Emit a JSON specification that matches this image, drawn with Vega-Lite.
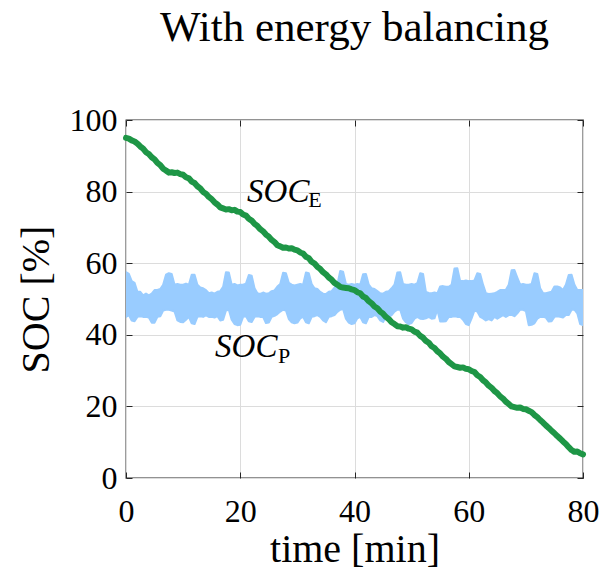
{
  "$schema": "https://vega.github.io/schema/vega-lite/v6.json",
  "autosize": {"type": "none"},
  "width": 457,
  "height": 358,
  "padding": {"left": 126, "top": 120, "right": 22, "bottom": 97},
  "background": "white",
  "title": {"text": "With energy balancing", "font": "'Liberation Serif', serif", "fontSize": 43, "fontWeight": "normal", "color": "#000", "anchor": "middle", "baseline": "alphabetic", "offset": 20},
  "config": {
    "view": {"stroke": "#262626", "strokeWidth": 1.3},
    "axis": {"labelFont": "'Liberation Serif', serif", "titleFont": "'Liberation Serif', serif", "labelFontSize": 32, "titleFontSize": 40, "titleFontWeight": "normal", "labelColor": "#000", "titleColor": "#000", "gridColor": "#dcdcdc", "gridWidth": 1, "domain": false, "tickColor": "#262626", "labelFlush": false}
  },
  "datasets": {
    "green": [
      {"t":0,"v":95.0},{"t":0.5,"v":94.8},{"t":1,"v":94.3},{"t":1.5,"v":94.0},{"t":2,"v":93.4},{"t":2.5,"v":92.6},{"t":3,"v":92.0},{"t":3.5,"v":91.0},{"t":4,"v":90.5},{"t":4.5,"v":89.6},
      {"t":5,"v":89.0},{"t":5.5,"v":88.0},{"t":6,"v":87.4},{"t":6.5,"v":86.4},{"t":7,"v":85.9},{"t":7.5,"v":85.3},{"t":8,"v":85.4},{"t":8.5,"v":85.2},{"t":9,"v":85.3},{"t":9.5,"v":84.9},
      {"t":10,"v":84.7},{"t":10.5,"v":84.0},{"t":11,"v":83.7},{"t":11.5,"v":82.8},{"t":12,"v":82.4},{"t":12.5,"v":81.5},{"t":13,"v":80.9},{"t":13.5,"v":79.9},{"t":14,"v":79.4},{"t":14.5,"v":78.5},
      {"t":15,"v":77.9},{"t":15.5,"v":77.0},{"t":16,"v":76.4},{"t":16.5,"v":75.6},{"t":17,"v":75.3},{"t":17.5,"v":75.0},{"t":18,"v":75.1},{"t":18.5,"v":74.8},{"t":19,"v":74.9},{"t":19.5,"v":74.4},
      {"t":20,"v":74.3},{"t":20.5,"v":73.6},{"t":21,"v":73.3},{"t":21.5,"v":72.4},{"t":22,"v":71.9},{"t":22.5,"v":71.0},{"t":23,"v":70.4},{"t":23.5,"v":69.5},{"t":24,"v":68.9},{"t":24.5,"v":68.0},
      {"t":25,"v":67.4},{"t":25.5,"v":66.5},{"t":26,"v":65.9},{"t":26.5,"v":65.0},{"t":27,"v":64.7},{"t":27.5,"v":64.3},{"t":28,"v":64.4},{"t":28.5,"v":64.1},{"t":29,"v":64.2},{"t":29.5,"v":63.8},
      {"t":30,"v":63.6},{"t":30.5,"v":63.0},{"t":31,"v":62.7},{"t":31.5,"v":61.8},{"t":32,"v":61.4},{"t":32.5,"v":60.4},{"t":33,"v":59.9},{"t":33.5,"v":59.0},{"t":34,"v":58.4},{"t":34.5,"v":57.5},
      {"t":35,"v":56.9},{"t":35.5,"v":56.0},{"t":36,"v":55.4},{"t":36.5,"v":54.5},{"t":37,"v":54.0},{"t":37.5,"v":53.4},{"t":38,"v":53.2},{"t":38.5,"v":53.1},{"t":39,"v":53.0},{"t":39.5,"v":52.7},
      {"t":40,"v":52.5},{"t":40.5,"v":51.9},{"t":41,"v":51.6},{"t":41.5,"v":50.7},{"t":42,"v":50.3},{"t":42.5,"v":49.4},{"t":43,"v":48.8},{"t":43.5,"v":47.9},{"t":44,"v":47.4},{"t":44.5,"v":46.5},
      {"t":45,"v":45.9},{"t":45.5,"v":45.0},{"t":46,"v":44.4},{"t":46.5,"v":43.5},{"t":47,"v":43.0},{"t":47.5,"v":42.4},{"t":48,"v":42.3},{"t":48.5,"v":42.0},{"t":49,"v":42.1},{"t":49.5,"v":41.7},
      {"t":50,"v":41.5},{"t":50.5,"v":40.9},{"t":51,"v":40.6},{"t":51.5,"v":39.7},{"t":52,"v":39.2},{"t":52.5,"v":38.3},{"t":53,"v":37.8},{"t":53.5,"v":36.8},{"t":54,"v":36.3},{"t":54.5,"v":35.4},
      {"t":55,"v":34.8},{"t":55.5,"v":33.9},{"t":56,"v":33.3},{"t":56.5,"v":32.4},{"t":57,"v":31.8},{"t":57.5,"v":31.2},{"t":58,"v":31.0},{"t":58.5,"v":30.8},{"t":59,"v":30.9},{"t":59.5,"v":30.5},
      {"t":60,"v":30.4},{"t":60.5,"v":29.9},{"t":61,"v":29.6},{"t":61.5,"v":28.7},{"t":62,"v":28.2},{"t":62.5,"v":27.3},{"t":63,"v":26.7},{"t":63.5,"v":25.8},{"t":64,"v":25.2},{"t":64.5,"v":24.3},
      {"t":65,"v":23.7},{"t":65.5,"v":22.8},{"t":66,"v":22.2},{"t":66.5,"v":21.3},{"t":67,"v":20.7},{"t":67.5,"v":20.0},{"t":68,"v":19.8},{"t":68.5,"v":19.6},{"t":69,"v":19.7},{"t":69.5,"v":19.3},
      {"t":70,"v":19.2},{"t":70.5,"v":18.8},{"t":71,"v":18.4},{"t":71.5,"v":17.6},{"t":72,"v":17.0},{"t":72.5,"v":16.2},{"t":73,"v":15.5},{"t":73.5,"v":14.7},{"t":74,"v":14.0},{"t":74.5,"v":13.2},
      {"t":75,"v":12.5},{"t":75.5,"v":11.7},{"t":76,"v":11.0},{"t":76.5,"v":10.2},{"t":77,"v":9.5},{"t":77.5,"v":8.6},{"t":78,"v":7.8},{"t":78.5,"v":7.3},{"t":79,"v":7.4},{"t":79.5,"v":6.9},
      {"t":80,"v":6.6}
    ],
    "blue": [
      {"t":0,"hi":57.5,"lo":45},{"t":0.5,"hi":57,"lo":45.5},{"t":1,"hi":55,"lo":44},{"t":1.5,"hi":54.5,"lo":43.8},{"t":2,"hi":52,"lo":45},{"t":2.5,"hi":52,"lo":45.2},{"t":3,"hi":51,"lo":45},{"t":3.5,"hi":51.5,"lo":45},{"t":4,"hi":51,"lo":44.8},{"t":4.5,"hi":51.5,"lo":43.4},
      {"t":5,"hi":52.5,"lo":43.4},{"t":5.5,"hi":52.5,"lo":45},{"t":6,"hi":52.8,"lo":45.2},{"t":6.5,"hi":54,"lo":46.8},{"t":7,"hi":56.8,"lo":47},{"t":7.5,"hi":57.2,"lo":47},{"t":8,"hi":57,"lo":46.8},{"t":8.5,"hi":54,"lo":46.5},{"t":9,"hi":54.2,"lo":44},{"t":9.5,"hi":54,"lo":43.6},
      {"t":10,"hi":54,"lo":43.5},{"t":10.5,"hi":54.3,"lo":44.2},{"t":11,"hi":54,"lo":45},{"t":11.5,"hi":56.8,"lo":43.2},{"t":12,"hi":56.8,"lo":43},{"t":12.5,"hi":54,"lo":45},{"t":13,"hi":53.2,"lo":45.2},{"t":13.5,"hi":53,"lo":45},{"t":14,"hi":52.5,"lo":45.4},{"t":14.5,"hi":51.6,"lo":45},
      {"t":15,"hi":51.8,"lo":45},{"t":15.5,"hi":51.5,"lo":44.8},{"t":16,"hi":52,"lo":45.2},{"t":16.5,"hi":52.2,"lo":44},{"t":17,"hi":53.4,"lo":44.2},{"t":17.5,"hi":57.5,"lo":46.8},{"t":18,"hi":57.4,"lo":47},{"t":18.5,"hi":54,"lo":44.2},{"t":19,"hi":54.2,"lo":43},{"t":19.5,"hi":53.8,"lo":42.7},
      {"t":20,"hi":54,"lo":42.8},{"t":20.5,"hi":54,"lo":45},{"t":21,"hi":54.3,"lo":45.2},{"t":21.5,"hi":56.7,"lo":43.8},{"t":22,"hi":56.5,"lo":43.6},{"t":22.5,"hi":53,"lo":45},{"t":23,"hi":51.6,"lo":45.2},{"t":23.5,"hi":51.4,"lo":45},{"t":24,"hi":51.8,"lo":45},{"t":24.5,"hi":51.5,"lo":43.3},
      {"t":25,"hi":51.6,"lo":43.4},{"t":25.5,"hi":52.2,"lo":45},{"t":26,"hi":52.4,"lo":45.3},{"t":26.5,"hi":53.5,"lo":45.8},{"t":27,"hi":54.2,"lo":46.5},{"t":27.5,"hi":57.3,"lo":47},{"t":28,"hi":57.2,"lo":46.8},{"t":28.5,"hi":54.5,"lo":44.4},{"t":29,"hi":54,"lo":43.5},{"t":29.5,"hi":53.8,"lo":43.2},
      {"t":30,"hi":54,"lo":43.4},{"t":30.5,"hi":54.2,"lo":44.6},{"t":31,"hi":54,"lo":45},{"t":31.5,"hi":57.4,"lo":43.5},{"t":32,"hi":57.2,"lo":43.2},{"t":32.5,"hi":54.2,"lo":45},{"t":33,"hi":53,"lo":45.2},{"t":33.5,"hi":52.8,"lo":45.5},{"t":34,"hi":52,"lo":45},{"t":34.5,"hi":51.5,"lo":44},
      {"t":35,"hi":51.4,"lo":43.5},{"t":35.5,"hi":52,"lo":45},{"t":36,"hi":52.2,"lo":45.2},{"t":36.5,"hi":53.2,"lo":45.5},{"t":37,"hi":54,"lo":46.4},{"t":37.5,"hi":57.8,"lo":47},{"t":38,"hi":57.6,"lo":47.2},{"t":38.5,"hi":54.2,"lo":44.5},{"t":39,"hi":54,"lo":43.4},{"t":39.5,"hi":54.2,"lo":43},
      {"t":40,"hi":54,"lo":43.2},{"t":40.5,"hi":54.2,"lo":44.6},{"t":41,"hi":54,"lo":45},{"t":41.5,"hi":56.9,"lo":43.5},{"t":42,"hi":57,"lo":43.2},{"t":42.5,"hi":54,"lo":45},{"t":43,"hi":53,"lo":45},{"t":43.5,"hi":52.8,"lo":45.5},{"t":44,"hi":52.2,"lo":45.2},{"t":44.5,"hi":51.6,"lo":44},
      {"t":45,"hi":51.5,"lo":43.6},{"t":45.5,"hi":52,"lo":45},{"t":46,"hi":52.2,"lo":45},{"t":46.5,"hi":53,"lo":45.5},{"t":47,"hi":54,"lo":46.5},{"t":47.5,"hi":57.4,"lo":47},{"t":48,"hi":57.5,"lo":47},{"t":48.5,"hi":54.2,"lo":44.5},{"t":49,"hi":54,"lo":43.5},{"t":49.5,"hi":54,"lo":43},
      {"t":50,"hi":54.2,"lo":43.3},{"t":50.5,"hi":54,"lo":44.5},{"t":51,"hi":54.4,"lo":45},{"t":51.5,"hi":57.2,"lo":44.5},{"t":52,"hi":57,"lo":44.4},{"t":52.5,"hi":52,"lo":44.6},{"t":53,"hi":51.7,"lo":45},{"t":53.5,"hi":51.6,"lo":44.5},{"t":54,"hi":51.8,"lo":44.6},{"t":54.5,"hi":51.6,"lo":47},
      {"t":55,"hi":53.5,"lo":43.7},{"t":55.5,"hi":53.6,"lo":43.7},{"t":56,"hi":53.4,"lo":43.8},{"t":56.5,"hi":53.4,"lo":45},{"t":57,"hi":54,"lo":45},{"t":57.5,"hi":58.5,"lo":45.2},{"t":58,"hi":58.6,"lo":45},{"t":58.5,"hi":55,"lo":45},{"t":59,"hi":55,"lo":44.2},{"t":59.5,"hi":55.2,"lo":43},
      {"t":60,"hi":55,"lo":42.7},{"t":60.5,"hi":55,"lo":44.6},{"t":61,"hi":55.2,"lo":46.8},{"t":61.5,"hi":57.2,"lo":46.5},{"t":62,"hi":57,"lo":45},{"t":62.5,"hi":54,"lo":44.6},{"t":63,"hi":51.6,"lo":44},{"t":63.5,"hi":51.4,"lo":44.4},{"t":64,"hi":51.5,"lo":44},{"t":64.5,"hi":51.6,"lo":45},
      {"t":65,"hi":52,"lo":44.5},{"t":65.5,"hi":52.5,"lo":45},{"t":66,"hi":52.5,"lo":45.5},{"t":66.5,"hi":52.6,"lo":45},{"t":67,"hi":54,"lo":45.5},{"t":67.5,"hi":58,"lo":45.6},{"t":68,"hi":58.1,"lo":45.2},{"t":68.5,"hi":56,"lo":46},{"t":69,"hi":54,"lo":47},{"t":69.5,"hi":54.2,"lo":47},
      {"t":70,"hi":54,"lo":46.6},{"t":70.5,"hi":54,"lo":42.7},{"t":71,"hi":54.2,"lo":42.8},{"t":71.5,"hi":57.2,"lo":43.2},{"t":72,"hi":57,"lo":44.5},{"t":72.5,"hi":53,"lo":45},{"t":73,"hi":51.7,"lo":45},{"t":73.5,"hi":51.6,"lo":44.8},{"t":74,"hi":51.8,"lo":43.7},{"t":74.5,"hi":52,"lo":43.8},
      {"t":75,"hi":53.5,"lo":45},{"t":75.5,"hi":53.5,"lo":45.2},{"t":76,"hi":53.2,"lo":45},{"t":76.5,"hi":52.5,"lo":44.8},{"t":77,"hi":54,"lo":45.5},{"t":77.5,"hi":56.7,"lo":45.5},{"t":78,"hi":56.8,"lo":47},{"t":78.5,"hi":54,"lo":47},{"t":79,"hi":52.5,"lo":46},{"t":79.5,"hi":52.5,"lo":43},
      {"t":80,"hi":52.5,"lo":42.7}
    ],
    "labels": [
      {"t":21.2,"v":77.1,"main":"SOC","sub":"E","ts":31.9,"vs":75.7},
      {"t":15.6,"v":33.9,"main":"SOC","sub":"P","ts":26.6,"vs":32.2}
    ]
  },
  "resolve": {"axis": {"x": "independent", "y": "independent"}},
  "layer": [
    {
      "data": {"name": "blue"},
      "mark": {"type": "area", "color": "#99ccff", "interpolate": "linear", "opacity": 1, "stroke": "#99ccff", "strokeWidth": 2, "strokeJoin": "round", "clip": true},
      "encoding": {
        "x": {"field": "t", "type": "quantitative", "scale": {"domain": [0, 80], "nice": false}, "axis": {"title": "time [min]", "values": [0, 20, 40, 60, 80], "tickSize": -6, "labelPadding": 24, "titlePadding": 2, "grid": true}},
        "y": {"field": "hi", "type": "quantitative", "scale": {"domain": [0, 100], "nice": false}, "axis": {"title": "SOC [%]", "values": [0, 20, 40, 60, 80, 100], "tickSize": -6, "labelPadding": 15, "titlePadding": 13, "grid": true}},
        "y2": {"field": "lo"}
      }
    },
    {
      "data": {"name": "green"},
      "mark": {"type": "line", "color": "#1e9646", "strokeWidth": 6, "strokeJoin": "round", "strokeCap": "round"},
      "encoding": {
        "x": {"field": "t", "type": "quantitative", "axis": null},
        "y": {"field": "v", "type": "quantitative", "axis": null}
      }
    },
    {
      "data": {"name": "labels"},
      "mark": {"type": "text", "font": "'Liberation Serif', serif", "fontStyle": "italic", "fontSize": 33, "align": "left", "baseline": "alphabetic", "color": "#000"},
      "encoding": {
        "x": {"field": "t", "type": "quantitative", "axis": {"orient": "top", "title": null, "labels": false, "grid": false, "values": [0, 20, 40, 60, 80], "tickSize": 6, "offset": -6}},
        "y": {"field": "v", "type": "quantitative", "axis": {"orient": "right", "title": null, "labels": false, "grid": false, "values": [0, 20, 40, 60, 80, 100], "tickSize": 6, "offset": -6}},
        "text": {"field": "main"}
      }
    },
    {
      "data": {"name": "labels"},
      "mark": {"type": "text", "font": "'Liberation Serif', serif", "fontSize": 22, "align": "left", "baseline": "alphabetic", "color": "#000"},
      "encoding": {
        "x": {"field": "ts", "type": "quantitative", "axis": null},
        "y": {"field": "vs", "type": "quantitative", "axis": null},
        "text": {"field": "sub"}
      }
    }
  ]
}
